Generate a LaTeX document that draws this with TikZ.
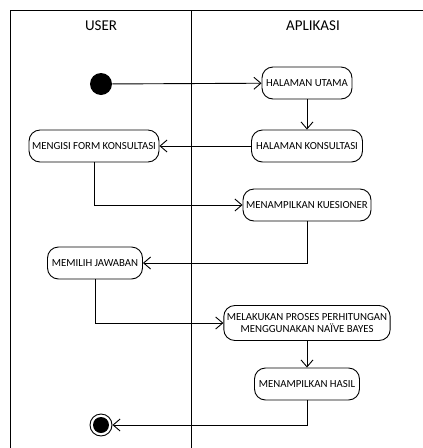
\documentclass[tikz,border=0pt]{standalone}
\usepackage{fontspec}
\setmainfont{Carlito}
\usetikzlibrary{arrows.meta,positioning}
\begin{document}
\begin{tikzpicture}[
		x = 1pt, y = 1pt, % pixel like units
		> = {Straight Barb[length=7pt,width=12pt]}, % open arrow head
		line width = 0.9pt, % line style
		act/.style = {draw, rounded corners=11pt, minimum height=32pt, inner xsep=3pt, align=center, font=\fontsize{10.8}{12.5}\selectfont},
		startnode/.style = {circle, fill=black, minimum size=22pt, inner sep=0pt},
		endnode/.style = {circle, draw, minimum size=22pt, inner sep=0pt,
			path picture={\fill (path picture bounding box.center) circle (8pt);}},
		lane/.style = {font=\fontsize{15}{17}\selectfont}
		]
		
		\useasboundingbox (0,0) rectangle (423,-448);
		
		% swimlanes
		\draw (10,-448) -- (10,-10) -- (423,-10);
		\draw (191,-10) -- (191,-448);
		\node[lane] (lUser) at (101,-26) {USER};
		\node[lane] (lApp) at (313,-26) {APLIKASI};
		
		\node[startnode] (qStart) at (101,-84) {};
		\node[act, minimum width=90pt] (qUtama) at (307,-83) {HALAMAN UTAMA};
		\node[act, minimum width=111pt] (qKonsul) at (307,-146) {HALAMAN KONSULTASI};
		\node[act, minimum width=127pt] (qForm) at (94,-146) {MENGISI FORM KONSULTASI};
		\node[act, minimum width=128pt] (qKues) at (307,-205) {MENAMPILKAN KUESIONER};
		\node[act, minimum width=95pt] (qJawab) at (95,-263) {MEMILIH JAWABAN};
		\node[act, minimum width=165pt, minimum height=35pt] (qHitung) at (307,-323) {MELAKUKAN PROSES PERHITUNGAN\\MENGGUNAKAN NAÏVE BAYES};
		\node[act, minimum width=105pt] (qHasil) at (307,-384) {MENAMPILKAN HASIL};
		\node[endnode] (qEnd) at (101,-425) {};
		
		\draw[->] (qStart) -- (qUtama);
		\draw[->] (qUtama) -- (qKonsul);
		\draw[->] (qKonsul) -- (qForm);
		\draw[->] (qForm.south) |- (qKues.west);
		\draw[->] (qKues.south) |- (qJawab.east);
		\draw[->] (qJawab.south) |- (qHitung.west);
		\draw[->] (qHitung) -- (qHasil);
		\draw[->] (qHasil.south) |- (qEnd.east);
	\end{tikzpicture}
\end{document}
